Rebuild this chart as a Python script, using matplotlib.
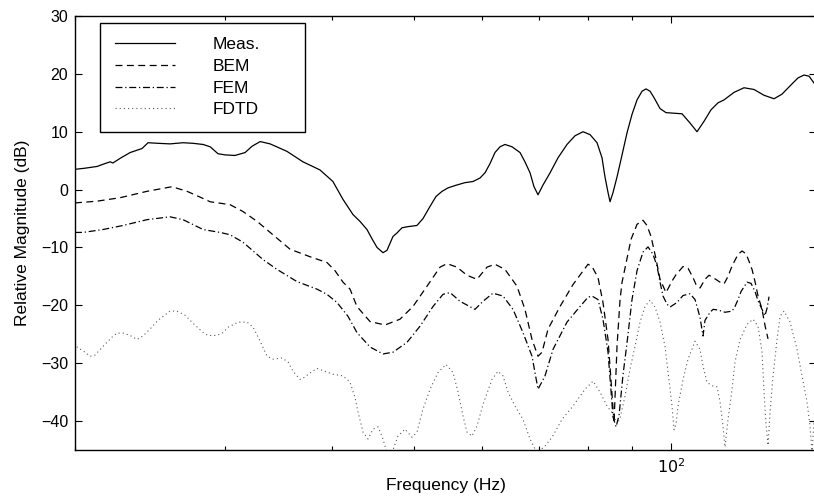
import matplotlib
matplotlib.use("Agg")
import matplotlib.pyplot as plt
from matplotlib.patches import Rectangle
from matplotlib.ticker import NullFormatter

# --------------------------
# Data (frequency in Hz, level in dB)
# --------------------------

meas_f = [20.00, 20.55, 21.23, 21.69, 21.99, 22.16, 22.59, 23.21, 23.97, 24.36,
          25.02, 25.85, 26.78, 27.51, 28.27, 28.81, 29.43, 29.99, 30.81, 31.66,
          32.27, 32.98, 33.88, 35.46, 37.02, 38.76, 40.14, 41.25, 42.37, 43.19,
          44.01, 44.61, 45.22, 45.95, 46.45, 46.83, 47.21, 47.72, 48.37, 49.16,
          50.37, 51.20, 52.18, 53.02, 53.90, 54.78, 55.82, 57.34, 58.60, 59.72,
          60.53, 61.36, 62.18, 63.04, 63.89, 65.12, 66.54, 67.43, 68.36, 69.10,
          69.85, 70.80, 72.16, 73.73, 75.54, 77.19, 78.88, 80.39, 81.92, 83.03,
          83.70, 84.39, 84.85, 85.54, 86.47, 87.65, 88.83, 90.04, 91.27, 92.51,
          93.51, 94.53, 95.55, 97.12, 98.70, 100.86, 103.07, 105.32, 107.32, 109.37,
          111.47, 113.59, 115.44, 118.60, 121.85, 125.19, 128.62, 132.14, 135.03, 138.35,
          140.99, 143.29, 145.25, 147.22]
meas_db = [3.5, 3.7, 4.0, 4.5, 4.8, 4.6, 5.4, 6.4, 7.1, 8.1,
           8.0, 7.9, 8.1, 8.0, 7.8, 7.4, 6.2, 6.0, 5.9, 6.4,
           7.5, 8.3, 7.9, 6.6, 4.8, 3.4, 1.4, -1.7, -4.3, -5.5,
           -6.9, -8.5, -10.0, -10.9, -10.5, -9.3, -8.1, -7.5, -6.6, -6.4,
           -6.2, -5.0, -2.9, -1.2, -0.3, 0.3, 0.7, 1.2, 1.4, 2.0,
           2.9, 4.5, 6.4, 7.4, 7.8, 7.4, 6.4, 4.8, 2.9, 0.5,
           -0.9, 0.8, 2.9, 5.5, 7.8, 9.3, 10.0, 9.5, 8.1, 5.5,
           2.2, -0.5, -2.1, -0.5, 2.2, 6.0, 9.8, 13.0, 15.5, 17.0,
           17.4, 17.0, 15.9, 14.0, 13.3, 13.2, 13.1, 11.5, 10.0, 11.8,
           13.8, 15.0, 15.5, 16.8, 17.6, 17.3, 16.3, 15.7, 16.5, 18.1,
           19.3, 19.8, 19.6, 18.4]

bem_f = [20.00, 21.23, 22.59, 24.29, 25.99, 27.07, 28.04, 28.81, 30.40, 31.49,
         32.71, 33.88, 35.75, 37.73, 39.50, 40.36, 41.25, 42.04, 42.83, 44.37,
         46.20, 48.11, 49.83, 51.75, 53.61, 54.63, 56.12, 57.65, 59.23, 60.86,
         62.18, 63.89, 66.00, 67.43, 68.73, 69.85, 70.61, 71.77, 74.13, 76.78,
         79.95, 80.82, 82.14, 83.25, 84.39, 85.08, 85.77, 86.47, 87.18, 87.65,
         89.80, 91.27, 92.75, 93.76, 94.79, 96.07, 97.12, 98.70, 100.32, 101.41,
         103.35, 104.75, 106.17, 107.03, 108.20, 109.66, 110.86, 112.07, 114.21, 115.44,
         116.70, 117.97, 118.92, 119.90, 121.20, 122.51, 123.52, 124.52, 125.52, 126.55,
         127.93, 128.96, 130.02]
bem_db = [-2.3, -2.0, -1.4, -0.3, 0.5, -0.3, -1.3, -2.1, -2.6, -3.8,
          -5.5, -7.4, -10.3, -11.6, -12.6, -14.0, -16.0, -17.2, -20.2, -22.8,
          -23.4, -22.4, -20.2, -16.7, -13.4, -12.8, -13.4, -14.8, -15.5, -13.4,
          -12.9, -13.8, -16.7, -20.7, -25.9, -28.8, -28.1, -24.1, -20.2, -16.4,
          -12.9, -13.3, -15.2, -19.5, -25.9, -33.0, -40.3, -27.0, -19.0, -16.0,
          -8.6, -6.0, -5.3, -6.2, -8.1, -12.0, -15.5, -17.8, -15.8, -14.7,
          -13.3, -13.6, -15.2, -16.4, -17.0, -15.5, -14.8, -15.2, -16.0, -16.3,
          -15.0, -13.2, -12.2, -11.2, -10.6, -11.1, -12.4, -13.8, -15.9, -18.4,
          -20.7, -23.5, -25.8]

fem_f = [20.00, 20.44, 21.57, 22.77, 24.29, 25.85, 26.78, 28.27, 29.59, 30.40,
         31.49, 33.24, 34.52, 36.43, 38.45, 39.50, 40.58, 41.81, 42.83, 44.37,
         45.95, 47.21, 49.03, 50.79, 52.60, 54.04, 55.08, 56.58, 58.91, 60.21,
         61.85, 63.55, 65.29, 67.07, 68.73, 69.85, 71.18, 72.74, 75.54, 78.25,
         79.95, 80.82, 82.14, 83.25, 84.39, 85.54, 86.24, 86.94, 87.88, 88.83,
         90.04, 91.27, 92.75, 94.02, 95.30, 96.33, 97.12, 97.91, 98.97, 99.78,
         101.68, 103.35, 105.32, 106.74, 107.32, 108.20, 109.08, 109.66, 111.17, 112.07,
         113.59, 115.75, 117.97, 118.92, 119.90, 120.88, 122.85, 124.18, 125.52, 126.55,
         127.93, 128.96, 129.67, 130.37]
fem_db = [-7.4, -7.4, -6.9, -6.2, -5.2, -4.7, -5.2, -6.9, -7.4, -7.8,
          -9.1, -12.1, -13.8, -15.9, -17.2, -18.1, -19.5, -21.9, -24.7, -27.2,
          -28.4, -28.1, -26.4, -23.6, -20.2, -18.1, -17.8, -19.3, -20.7, -19.3,
          -17.9, -18.4, -20.7, -24.7, -28.8, -34.5, -32.2, -27.6, -22.9, -20.2,
          -18.6, -18.4, -19.0, -22.4, -28.1, -39.3, -41.0, -39.0, -32.0, -26.5,
          -19.0, -14.0, -10.8, -9.9, -11.2, -13.2, -16.0, -18.4, -19.8, -20.3,
          -19.5, -18.3, -18.0, -19.0, -20.2, -22.1, -25.3, -22.6, -21.2, -20.7,
          -20.8, -21.2, -21.0, -20.2, -19.0, -17.6, -16.0, -16.2, -17.6, -19.2,
          -20.7, -21.8, -20.5, -18.5]

fdtd_f = [20.00, 20.11, 20.55, 20.83, 21.11, 21.57, 22.10, 22.40, 22.83, 23.27,
          23.65, 24.03, 24.49, 25.02, 25.85, 26.34, 26.92, 27.51, 28.27, 28.65,
          29.35, 29.83, 30.24, 31.07, 31.83, 32.36, 32.98, 33.60, 34.15, 34.99,
          35.56, 36.04, 36.73, 37.02, 37.73, 38.45, 39.28, 40.14, 41.25, 42.04,
          42.60, 42.95, 43.54, 44.13, 44.73, 45.34, 45.95, 46.45, 47.08, 47.85,
          48.76, 49.70, 50.37, 51.20, 52.18, 53.32, 54.48, 55.52, 56.28, 57.04,
          57.65, 58.44, 59.23, 60.21, 61.69, 62.69, 63.55, 64.42, 65.64, 67.07,
          68.36, 69.66, 71.18, 72.55, 74.53, 76.78, 79.30, 81.04, 82.59, 84.16,
          85.54, 86.47, 87.18, 88.35, 89.56, 90.77, 92.01, 93.25, 94.53, 95.81,
          97.12, 98.43, 99.24, 100.32, 100.86, 101.41, 101.96, 103.35, 104.75, 106.74,
          108.20, 109.08, 110.26, 111.77, 113.29, 114.21, 115.13, 115.75, 116.70, 117.97,
          118.92, 120.55, 122.85, 124.85, 126.55, 127.93, 128.62, 129.31, 130.02, 130.73,
          131.78, 133.22, 134.31, 135.76, 137.98, 140.61, 142.52, 144.46, 145.64, 146.43,
          147.22]
fdtd_db = [-26.5, -27.2, -28.1, -28.8, -28.6, -27.1, -25.5, -24.8, -24.8, -25.3,
           -25.9, -25.3, -24.1, -22.6, -21.0, -21.0, -21.7, -23.1, -24.7, -25.2,
           -25.2, -24.7, -23.8, -22.9, -22.9, -23.8, -26.2, -28.8, -29.3, -29.1,
           -29.8, -31.4, -32.8, -32.6, -31.7, -30.9, -31.4, -31.9, -32.2, -33.3,
           -35.9, -38.4, -41.9, -43.1, -41.4, -41.0, -43.1, -45.5, -45.5, -42.6,
           -41.4, -42.8, -41.9, -37.9, -34.5, -31.6, -30.2, -31.6, -35.0, -39.1,
           -41.9, -42.6, -40.9, -37.1, -32.8, -31.4, -32.2, -35.0, -37.4, -39.7,
           -43.1, -45.5, -44.3, -42.8, -39.7, -37.4, -34.5, -33.1, -35.0, -37.4,
           -38.8, -40.5, -39.5, -35.7, -31.0, -27.1, -22.9, -20.2, -19.1, -20.3,
           -22.9, -27.1, -31.6, -37.4, -41.5, -40.5, -37.4, -32.8, -29.3, -26.2,
           -27.6, -30.5, -33.3, -33.9, -34.1, -36.7, -40.9, -44.5, -39.7, -34.5,
           -29.8, -25.9, -23.3, -22.4, -23.6, -28.1, -35.0, -40.5, -44.2, -38.4,
           -32.2, -25.9, -21.9, -21.0, -22.9, -27.6, -32.2, -36.7, -40.9, -45.5,
           -40.0]

labels = ['Meas.', 'BEM', 'FEM', 'FDTD']
y_ticks = [-40, -30, -20, -10, 0, 10, 20, 30]
x_minor = [20, 30, 40, 50, 60, 70, 80, 90]

# --------------------------
# Plot
# --------------------------

plt.rcParams['font.family'] = ['Liberation Sans', 'DejaVu Sans']
plt.rcParams['lines.scale_dashes'] = False

fig = plt.figure(figsize=(8.14, 4.98), dpi=100)
# axes box in pixels: left 75, right 816 (just past the image edge), top 16, bottom 450
ax = fig.add_axes([75 / 814, 48 / 498, 741 / 814, 434 / 498])

ax.plot(meas_f, meas_db, color='black', lw=0.9, ls='-', label=labels[0])
ax.plot(bem_f, bem_db, color='black', lw=0.9, ls=(0, (5, 3.2)), label=labels[1])
ax.plot(fem_f, fem_db, color='black', lw=0.9, ls=(0, (5, 2, 0.9, 2)), label=labels[2])
ax.plot(fdtd_f, fdtd_db, color='0.35', lw=0.8, ls=(0, (0.8, 2.2)), label=labels[3])

ax.set_xscale('log')
ax.set_xlim(20, 148)
ax.set_ylim(-45, 30)
ax.set_yticks(y_ticks)
ax.set_yticklabels([str(v).replace('-', '\u2212') for v in y_ticks])
ax.set_xticks([100])
ax.set_xticklabels(['$10^2$'])
ax.set_xticks(x_minor, minor=True)
ax.xaxis.set_minor_formatter(NullFormatter())

ax.tick_params(which='both', direction='in', top=True, right=True, labelsize=11.5, width=0.8)
ax.tick_params(which='major', length=5, pad=5)
ax.tick_params(which='minor', length=3)
for s in ax.spines.values():
    s.set_linewidth(1.0)

ax.set_xlabel('Frequency (Hz)', fontsize=12.5, labelpad=2)
ax.set_ylabel('Relative Magnitude (dB)', fontsize=12.5, labelpad=8)

# legend entries without their own frame; the box is drawn separately to match the wide MATLAB box
leg = ax.legend(loc='upper left', bbox_to_anchor=(40 / 741, 1 - 21 / 434), fontsize=12.5,
                frameon=False, handlelength=3.45, handletextpad=2.2, borderpad=0,
                labelspacing=0.38, borderaxespad=0)
ax.add_patch(Rectangle((25 / 741, 1 - 116 / 434), 205 / 741, 109 / 434,
                       transform=ax.transAxes, facecolor='white', edgecolor='black',
                       lw=1.0, zorder=4))
leg.set_zorder(5)

fig.savefig('out.png', dpi=100)
